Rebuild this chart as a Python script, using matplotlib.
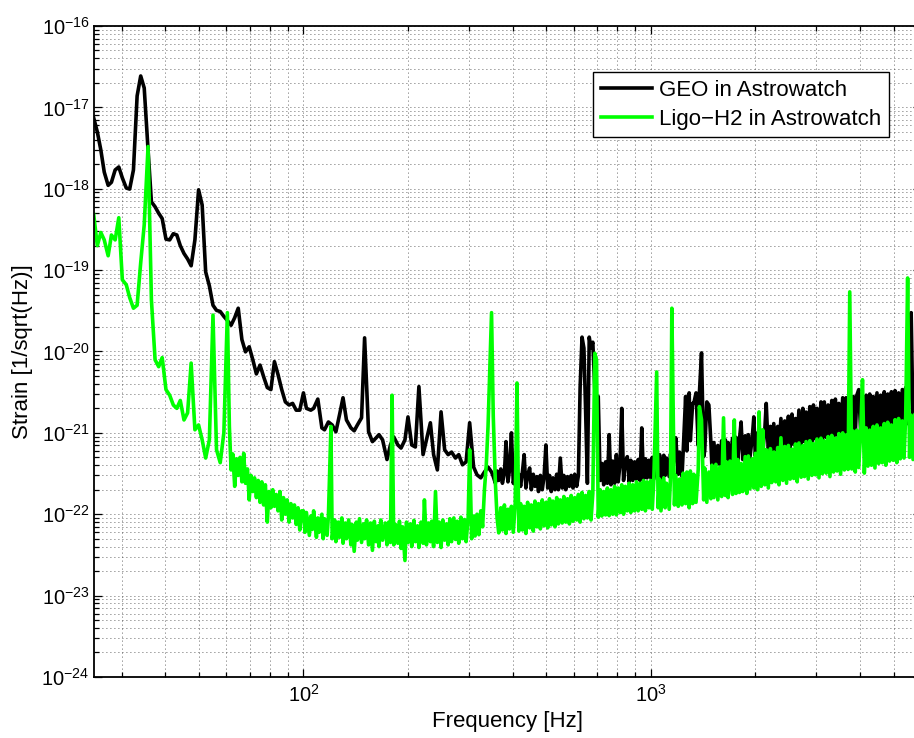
import matplotlib
matplotlib.use('Agg')
import matplotlib.pyplot as plt
from matplotlib.ticker import LogLocator, NullFormatter, LogFormatterMathtext
import numpy as np

# coarse frequency samples [Hz] (low end of the spectrum)
coarse_freq_hz = [
    24.9, 25.5, 26.1, 26.7, 27.4, 28.0, 28.7, 29.4, 30.1, 30.9,
    31.6, 32.4, 33.2, 34.0, 34.8, 35.7, 36.5, 37.4, 38.3, 39.2,
    40.2, 41.2, 42.2, 43.2, 44.2, 45.3, 46.4, 47.5, 48.7, 49.9,
    51.1, 52.3, 53.6, 54.9, 56.2, 57.6, 59.0, 60.4, 61.9, 63.4,
    64.9, 66.5, 68.1, 69.8, 71.5, 73.2, 75.0, 76.8, 78.7, 80.6,
    82.5, 84.5, 86.6, 88.7, 90.9, 93.1, 95.3, 97.6,
    100, 102, 105, 107, 110, 113, 115, 118, 121, 124,
    127, 130, 133, 137, 140, 143, 147, 150, 154, 158,
    162, 165, 169, 174, 178, 182, 187, 191, 196, 200,
    205, 210, 215, 221, 226, 232, 237, 243, 249, 255,
    261, 267, 274, 280, 287, 294, 301, 309, 316, 324,
    332, 340, 348,
]

# fine frequency samples [Hz] (noisy part of the spectrum)
fine_freq_hz = [
    60.4, 61.2, 61.9, 62.6, 63.4, 64.2, 64.9, 65.7, 66.5, 67.3, 68.1, 69.0,
    69.8, 70.6, 71.5, 72.3, 73.2, 74.1, 75.0, 75.9, 76.8, 77.7, 78.7, 79.6,
    80.6, 81.6, 82.5, 83.5, 84.5, 85.6, 86.6, 87.6, 88.7, 89.8, 90.9, 92.0,
    93.1, 94.2, 95.3, 96.5, 97.6, 98.8,
    100, 101, 102, 104, 105, 106, 107, 109, 110, 111, 113, 114,
    115, 117, 118, 120, 121, 123, 124, 126, 127, 129, 130, 132,
    133, 135, 137, 138, 140, 142, 143, 145, 147, 149, 150, 152,
    154, 156, 158, 160, 162, 164, 165, 167, 169, 172, 174, 176,
    178, 180, 182, 184, 187, 189, 191, 193, 196, 198, 200, 203,
    205, 208, 210, 213, 215, 218, 221, 223, 226, 229, 232, 234,
    237, 240, 243, 246, 249, 252, 255, 258, 261, 264, 267, 271,
    274, 277, 280, 284, 287, 291, 294, 298, 301, 305, 309, 312,
    316, 320, 324, 328, 332, 336, 340, 344, 348, 352, 357, 361,
    365, 370, 374, 379, 383, 388, 392, 397, 402, 407, 412, 417,
    422, 427, 432, 437, 442, 448, 453, 459, 464, 470, 475, 481,
    487, 493, 499, 505, 511, 517, 523, 530, 536, 542, 549, 556,
    562, 569, 576, 583, 590, 597, 604, 612, 619, 626, 634, 642,
    649, 657, 665, 673, 681, 690, 698, 706, 715, 723, 732, 741,
    750, 759, 768, 777, 787, 796, 806, 816, 825, 835, 845, 856,
    866, 876, 887, 898, 909, 920, 931, 942, 953, 965, 976, 988,
    1000, 1010, 1020, 1040, 1050, 1060, 1070, 1090, 1100, 1110, 1130, 1140,
    1150, 1170, 1180, 1200, 1210, 1230, 1240, 1260, 1270, 1290, 1300, 1320,
    1330, 1350, 1370, 1380, 1400, 1420, 1430, 1450, 1470, 1490, 1500, 1520,
    1540, 1560, 1580, 1600, 1620, 1640, 1650, 1670, 1690, 1720, 1740, 1760,
    1780, 1800, 1820, 1840, 1870, 1890, 1910, 1930, 1960, 1980, 2000, 2030,
    2050, 2080, 2100, 2130, 2150, 2180, 2210, 2230, 2260, 2290, 2320, 2340,
    2370, 2400, 2430, 2460, 2490, 2520, 2550, 2580, 2610, 2640, 2670, 2710,
    2740, 2770, 2800, 2840, 2870, 2910, 2940, 2980, 3010, 3050, 3090, 3120,
    3160, 3200, 3240, 3280, 3320, 3360, 3400, 3440, 3480, 3520, 3570, 3610,
    3650, 3700, 3740, 3790, 3830, 3880, 3920, 3970, 4020, 4070, 4120, 4170,
    4220, 4270, 4320, 4370, 4420, 4480, 4530, 4590, 4640, 4700, 4750, 4810,
    4870, 4930, 4990, 5050, 5110, 5170, 5230, 5300, 5360, 5420, 5490, 5560,
    5620, 5690, 5760, 5830, 5900, 5970, 6040,
]

# GEO strain [1/sqrt(Hz)]: coarse samples up to 348 Hz, then fine samples from 352 Hz
geo_strain = [
    7.4e-18, 5.0e-18, 3.0e-18, 1.6e-18, 1.1e-18, 1.2e-18, 1.7e-18, 1.85e-18, 1.36e-18, 1.02e-18,
    9.9e-19, 1.7e-18, 1.38e-17, 2.43e-17, 1.73e-17, 3.0e-18, 6.9e-19, 6.0e-19, 5.0e-19, 4.3e-19,
    2.4e-19, 2.35e-19, 2.8e-19, 2.7e-19, 2.0e-19, 1.6e-19, 1.37e-19, 1.13e-19, 2.35e-19, 9.7e-19,
    6.3e-19, 9.5e-20, 6.4e-20, 3.7e-20, 3.2e-20, 3.1e-20, 2.7e-20, 2.4e-20, 2.1e-20, 2.6e-20,
    3.4e-20, 1.4e-20, 9.9e-21, 1.14e-20, 7.9e-21, 5.3e-21, 6.8e-21, 4.9e-21, 3.6e-21, 3.4e-21,
    7.5e-21, 5.2e-21, 3.4e-21, 2.4e-21, 2.2e-21, 2.3e-21, 1.9e-21, 1.9e-21,
    3.1e-21, 2.0e-21, 1.9e-21, 2.0e-21, 2.6e-21, 1.15e-21, 1.09e-21, 1.36e-21, 1.25e-21, 1.03e-21,
    1.66e-21, 2.7e-21, 1.44e-21, 1.15e-21, 1.06e-21, 1.25e-21, 1.53e-21, 1.47e-20, 1.03e-21, 7.8e-22,
    8.7e-22, 9.5e-22, 8.2e-22, 4.7e-22, 7.1e-22, 8.9e-22, 7.1e-22, 6.5e-22, 8.2e-22, 1.57e-21,
    7.1e-22, 6.7e-22, 3.7e-21, 5.4e-22, 8.2e-22, 1.33e-21, 5.4e-22, 3.5e-22, 1.81e-21, 6.2e-22,
    5.4e-22, 5.8e-22, 4.9e-22, 5.4e-22, 4.05e-22, 4.4e-22, 1.33e-21, 3.8e-22, 3.05e-22, 2.8e-22,
    3.3e-22, 3.8e-22, 3.3e-22,
    # fine part
    2.9e-22, 2.4e-22, 3.4e-22,
    2.6e-22, 3.6e-22, 2.4e-22, 3.2e-22, 7.8e-22, 2.5e-22, 3.5e-22, 1.0e-21, 2.4e-22, 3.3e-22, 2.3e-22, 3.1e-22,
    2.2e-22, 3.3e-22, 5.4e-22, 2.1e-22, 3.0e-22, 3.7e-22, 2.0e-22, 3.1e-22, 2.2e-22, 2.9e-22, 1.9e-22, 3.0e-22,
    2.0e-22, 2.9e-22, 7.1e-22, 2.1e-22, 3.0e-22, 1.9e-22, 2.8e-22, 2.0e-22, 3.1e-22, 2.0e-22, 4.9e-22, 2.1e-22,
    3.0e-22, 2.0e-22, 2.9e-22, 2.2e-22, 3.0e-22, 2.1e-22, 3.1e-22, 2.2e-22, 3.0e-22, 3.6e-21, 1.5e-20, 1.1e-20,
    2.0e-21, 2.4e-22, 1.5e-20, 1.1e-20, 1.3e-20, 3.4e-21, 2.4e-21, 2.8e-21, 2.6e-22, 4.2e-22, 2.3e-22, 4.4e-22,
    2.4e-22, 9.5e-22, 2.3e-22, 4.5e-22, 2.4e-22, 5.4e-22, 2.5e-22, 4.3e-22, 2.0e-21, 2.6e-22, 4.5e-22, 5.1e-22,
    2.5e-22, 4.6e-22, 2.6e-22, 4.4e-22, 2.7e-22, 4.7e-22, 2.6e-22, 1.15e-21, 2.7e-22, 4.8e-22, 2.8e-22, 4.6e-22,
    2.8e-22, 5.0e-22, 2.7e-22, 4.6e-22, 2.9e-22, 5.4e-22, 2.6e-22, 5.3e-22, 3.0e-22, 4.9e-22, 2.9e-22, 5.5e-22,
    3.0e-22, 5.1e-22, 8.7e-22, 3.1e-22, 5.8e-22, 2.9e-22, 6.0e-22, 2.8e-21, 6.0e-22, 3.1e-21, 8.0e-22, 2.3e-21,
    2.3e-21, 3.1e-21, 7.0e-22, 3.0e-21, 9.6e-21, 5.1e-22, 6.0e-22, 2.4e-21, 2.2e-21, 7.5e-22, 3.8e-22, 7.6e-22,
    4.0e-22, 7.0e-22, 4.1e-22, 8.0e-22, 3.9e-22, 8.2e-22, 4.3e-22, 7.6e-22, 4.4e-22, 8.6e-22, 4.2e-22, 8.8e-22,
    4.6e-22, 8.2e-22, 1.36e-21, 4.7e-22, 9.2e-22, 4.5e-22, 9.5e-22, 5.0e-22, 8.8e-22, 1.57e-21, 5.2e-22, 1.0e-21,
    5.4e-22, 9.6e-22, 5.6e-22, 1.1e-21, 2.3e-21, 5.8e-22, 1.2e-21, 5.5e-22, 1.3e-21, 6.2e-22, 1.2e-21, 6.4e-22,
    1.5e-21, 6.0e-22, 1.4e-21, 6.8e-22, 1.6e-21, 6.5e-22, 1.7e-21, 7.2e-22, 1.5e-21, 7.4e-22, 1.9e-21, 7.0e-22,
    2.0e-21, 7.8e-22, 1.8e-21, 8.0e-22, 2.1e-21, 7.5e-22, 2.2e-21, 8.4e-22, 2.0e-21, 8.5e-22, 2.4e-21, 8.0e-22,
    2.4e-21, 8.8e-22, 2.2e-21, 9.0e-22, 2.5e-21, 8.5e-22, 2.6e-21, 9.4e-22, 2.3e-21, 9.5e-22, 2.7e-21, 9.0e-22,
    2.7e-21, 9.8e-22, 2.5e-21, 1.0e-21, 2.8e-21, 9.5e-22, 2.9e-21, 3.4e-21, 1.05e-21, 2.7e-21, 1.05e-21, 2.9e-21,
    1.1e-21, 3.0e-21, 1.0e-21, 2.8e-21, 1.12e-21, 3.1e-21, 1.15e-21, 2.9e-21, 1.1e-21, 3.2e-21, 1.18e-21, 3.0e-21,
    1.2e-21, 3.2e-21, 1.15e-21, 3.3e-21, 1.22e-21, 3.1e-21, 1.25e-21, 3.4e-21, 1.2e-21, 3.6e-21, 1.3e-21, 3.5e-21,
    3.0e-20, 1.3e-21, 3.5e-21, 1.25e-21, 3.6e-21, 1.35e-21, 3.4e-21,
]

# Ligo-H2 strain [1/sqrt(Hz)]: coarse samples below 60 Hz, then fine samples from 60.4 Hz
ligo_strain = [
    4.8e-19, 2.0e-19, 2.9e-19, 2.35e-19, 1.5e-19, 2.7e-19, 2.35e-19, 4.4e-19, 7.6e-20, 6.6e-20,
    4.6e-20, 3.4e-20, 3.7e-20, 1.23e-19, 3.6e-19, 3.3e-18, 4.3e-20, 7.9e-21, 6.5e-21, 8.4e-21,
    3.4e-21, 2.9e-21, 2.2e-21, 2.0e-21, 2.5e-21, 1.44e-21, 1.76e-21, 7.2e-21, 1.09e-21, 1.25e-21,
    8.2e-22, 4.9e-22, 8.2e-22, 2.8e-20, 6.2e-22, 4.3e-22, 1.0e-21,
    # fine part
    3.0e-20, 1.2e-21, 3.5e-22, 5.5e-22, 2.2e-22, 4.8e-22, 3.0e-22, 5.0e-22, 2.5e-22, 5.6e-22, 2.4e-22, 3.6e-22,
    1.5e-22, 3.0e-22, 1.9e-22, 2.8e-22, 1.6e-22, 2.6e-22, 1.4e-22, 2.5e-22, 1.3e-22, 2.3e-22, 8.0e-23, 1.9e-22,
    1.2e-22, 2.0e-22, 1.25e-22, 1.75e-22, 1.1e-22, 1.9e-22, 8.5e-23, 1.6e-22, 1.0e-22, 1.5e-22, 8.0e-23, 1.35e-22,
    9.0e-23, 1.3e-22, 7.5e-23, 1.2e-22, 6.4e-23, 1.1e-22,
    1.1e-22, 6.0e-23, 1.05e-22, 5.5e-23, 9.5e-23, 6.5e-23, 1.1e-22, 5.2e-23, 9.0e-23, 6.0e-23, 1.0e-22, 5.0e-23,
    8.8e-23, 5.5e-23, 9.5e-23, 1.2e-21, 5.0e-23, 8.5e-23, 4.6e-23, 8.0e-23, 5.2e-23, 9.0e-23, 4.4e-23, 7.8e-23,
    5.0e-23, 8.5e-23, 4.2e-23, 7.5e-23, 3.5e-23, 8.0e-23, 4.8e-23, 8.8e-23, 4.5e-23, 7.6e-23, 5.0e-23, 8.5e-23,
    4.2e-23, 7.8e-23, 3.6e-23, 8.2e-23, 4.6e-23, 7.2e-23, 4.0e-23, 8.5e-23, 4.8e-23, 7.8e-23, 4.2e-23, 8.0e-23,
    4.5e-23, 2.9e-21, 4.2e-23, 7.5e-23, 4.4e-23, 8.2e-23, 3.8e-23, 7.0e-23, 2.7e-23, 8.0e-23, 4.5e-23, 7.6e-23,
    4.0e-23, 8.4e-23, 4.6e-23, 7.2e-23, 3.9e-23, 8.0e-23, 4.4e-23, 1.5e-22, 4.2e-23, 7.8e-23, 4.6e-23, 8.2e-23,
    4.0e-23, 1.9e-22, 4.5e-23, 8.0e-23, 3.9e-23, 8.5e-23, 4.8e-23, 7.6e-23, 4.2e-23, 8.8e-23, 4.6e-23, 9.0e-23,
    4.9e-23, 8.2e-23, 4.4e-23, 9.2e-23, 5.0e-23, 8.6e-23, 4.6e-23, 9.0e-23, 6.2e-22, 5.0e-23, 9.5e-23, 5.4e-23,
    1.0e-22, 5.6e-23, 1.1e-22, 7.0e-23, 2.0e-22, 4.0e-22, 1.2e-21, 6.0e-21, 3.0e-20, 1.6e-21, 2.4e-22, 9.0e-23,
    5.9e-23, 1.2e-22, 6.4e-23, 1.3e-22, 5.8e-23, 1.15e-22, 6.6e-23, 1.25e-22, 6.0e-23, 1.3e-22, 4.1e-21, 6.2e-23,
    1.35e-22, 6.4e-23, 1.25e-22, 5.8e-23, 1.4e-22, 6.8e-23, 1.3e-22, 6.2e-23, 1.45e-22, 7.0e-23, 1.35e-22, 6.6e-23,
    1.5e-22, 7.2e-23, 1.4e-22, 6.8e-23, 1.55e-22, 7.4e-23, 1.45e-22, 7.0e-23, 1.6e-22, 7.6e-23, 1.5e-22, 7.8e-23,
    1.65e-22, 8.0e-23, 1.55e-22, 7.6e-23, 1.7e-22, 8.2e-23, 1.6e-22, 8.5e-23, 1.75e-22, 8.0e-23, 1.85e-22, 8.8e-23,
    1.7e-22, 9.0e-23, 1.9e-22, 8.5e-23, 1.8e-22, 9.5e-21, 7.9e-21, 9.2e-23, 2.0e-22, 9.5e-23, 1.9e-22, 9.8e-23,
    2.1e-22, 9.6e-23, 2.0e-22, 1.0e-22, 2.2e-22, 9.8e-23, 2.1e-22, 1.05e-22, 2.3e-22, 1.0e-22, 2.2e-22, 1.1e-22,
    2.4e-22, 1.05e-22, 2.3e-22, 1.1e-22, 2.5e-22, 1.1e-22, 2.4e-22, 1.15e-22, 2.6e-22, 1.1e-22, 2.5e-22, 1.2e-22,
    2.6e-22, 1.15e-22, 2.5e-22, 5.6e-21, 1.2e-22, 2.7e-22, 1.1e-22, 2.8e-22, 1.2e-22, 2.4e-22, 1.15e-22, 2.9e-22,
    3.4e-20, 1.3e-22, 3.0e-22, 1.25e-22, 2.7e-22, 1.3e-22, 3.2e-22, 1.35e-22, 3.3e-22, 1.2e-22, 3.4e-22, 1.35e-22,
    3.1e-22, 1.4e-22, 3.6e-22, 2.1e-21, 1.45e-21, 1.5e-22, 3.7e-22, 1.4e-22, 3.3e-22, 1.55e-22, 4.0e-22, 1.6e-22,
    4.1e-22, 1.5e-22, 3.8e-22, 1.65e-22, 1.53e-21, 1.7e-22, 4.4e-22, 1.6e-22, 4.5e-22, 1.75e-22, 1.44e-21, 1.8e-22,
    4.7e-22, 1.85e-22, 4.2e-22, 1.9e-22, 5.1e-22, 1.8e-22, 5.2e-22, 2.05e-22, 4.8e-22, 2.1e-22, 5.6e-22, 2.0e-22,
    1.81e-21, 2.2e-22, 1.09e-21, 2.3e-22, 6.2e-22, 2.1e-22, 6.4e-22, 2.45e-22, 5.8e-22, 2.5e-22, 6.6e-22, 2.3e-22,
    8.7e-22, 2.6e-22, 6.8e-22, 2.4e-22, 7.0e-22, 2.7e-22, 6.3e-22, 2.75e-22, 7.3e-22, 2.5e-22, 7.5e-22, 2.85e-22,
    7.0e-22, 2.9e-22, 7.8e-22, 2.7e-22, 8.0e-22, 3.0e-22, 7.4e-22, 3.05e-22, 8.4e-22, 2.8e-22, 8.6e-22, 3.15e-22,
    8.0e-22, 3.2e-22, 9.0e-22, 2.9e-22, 9.3e-22, 3.3e-22, 8.6e-22, 3.4e-22, 9.8e-22, 3.1e-22, 1.0e-21, 3.5e-22,
    9.4e-22, 3.55e-22, 5.4e-20, 3.6e-22, 1.05e-21, 3.3e-22, 1.08e-21, 3.75e-22, 1.0e-21, 4.5e-21, 3.2e-22, 1.15e-21,
    3.9e-22, 1.08e-21, 4.0e-22, 1.2e-21, 3.7e-22, 1.25e-21, 4.2e-22, 1.15e-21, 4.3e-22, 1.3e-21, 4.0e-22, 1.35e-21,
    4.5e-22, 1.25e-21, 4.6e-22, 1.45e-21, 4.3e-22, 1.5e-21, 4.8e-22, 1.4e-21, 4.9e-22, 1.6e-21, 8.0e-20, 5.0e-22,
    1.65e-21, 4.7e-22, 1.7e-21, 5.2e-22, 1.55e-21, 5.3e-22, 1.8e-21,
]

geo_freq_hz = coarse_freq_hz + [f for f in fine_freq_hz if f > 350]
ligo_freq_hz = [f for f in coarse_freq_hz if f < 60] + fine_freq_hz

labels = ['GEO in Astrowatch', 'Ligo\u2212H2 in Astrowatch']


def main():
    plt.rcParams['font.family'] = ['Liberation Sans', 'DejaVu Sans']
    plt.rcParams['mathtext.fontset'] = 'custom'
    plt.rcParams['mathtext.rm'] = 'Liberation Sans'
    plt.rcParams['mathtext.it'] = 'Liberation Sans:italic'
    plt.rcParams['mathtext.bf'] = 'Liberation Sans:bold'

    fig = plt.figure(figsize=(9.14, 7.38), dpi=100)
    ax = fig.add_axes([0.1032, 0.0827, 0.9045, 0.8821])

    ax.loglog(geo_freq_hz, geo_strain, color='black', lw=2.6, label=labels[0])
    ax.loglog(ligo_freq_hz, ligo_strain, color=(0, 1, 0), lw=2.6, label=labels[1])

    ax.set_xlim(25, 6000)
    ax.set_ylim(1e-24, 1e-16)

    ax.set_xticks([1e2, 1e3])
    ax.set_yticks([10.0 ** e for e in range(-24, -15)])
    ax.xaxis.set_major_formatter(LogFormatterMathtext())
    ax.yaxis.set_major_formatter(LogFormatterMathtext())
    ax.xaxis.set_minor_locator(LogLocator(base=10, subs=np.arange(2, 10), numticks=20))
    ax.yaxis.set_minor_locator(LogLocator(base=10, subs=np.arange(2, 10), numticks=20))
    ax.xaxis.set_minor_formatter(NullFormatter())
    ax.yaxis.set_minor_formatter(NullFormatter())

    # matlab-like dotted grid
    ax.grid(True, which='both', linestyle=(0, (1, 3.8)), color='0.2', lw=0.6)
    ax.set_axisbelow(True)
    ax.tick_params(which='both', direction='in', top=True, right=True, width=0.9)
    ax.tick_params(which='major', length=6, labelsize=14.5)
    ax.tick_params(which='minor', length=3.5)
    ax.tick_params(axis='x', pad=5)
    for sp in ax.spines.values():
        sp.set_linewidth(1.3)

    ax.set_xlabel('Frequency [Hz]', fontsize=16, labelpad=4)
    ax.set_ylabel('Strain [1/sqrt(Hz)]', fontsize=16, labelpad=6)

    leg = ax.legend(loc='upper left', bbox_to_anchor=(593 / 914, 1 - 72 / 738),
                    bbox_transform=fig.transFigure, fontsize=16, fancybox=False,
                    edgecolor='black', framealpha=1, borderaxespad=0,
                    handlelength=2.3, handletextpad=0.3, labelspacing=0.35,
                    borderpad=0.35)
    leg.get_frame().set_linewidth(1.0)

    fig.savefig('out.png', dpi=100)


if __name__ == "__main__":
    main()
